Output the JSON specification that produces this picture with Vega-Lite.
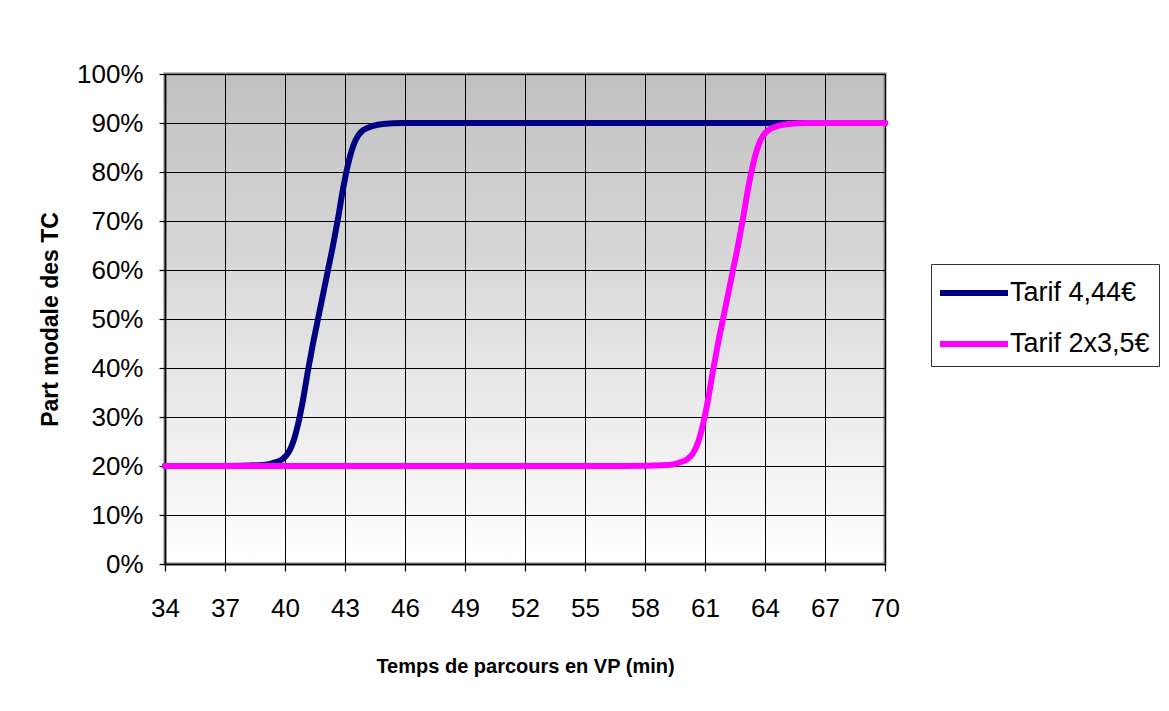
{
  "$schema": "https://vega.github.io/schema/vega-lite/v6.json",
  "width": 720,
  "height": 490,
  "autosize": {"type": "none"},
  "padding": {"left": 165, "top": 74, "right": 284, "bottom": 147},
  "background": "white",
  "config": {
    "font": "Liberation Sans",
    "view": {
      "stroke": "#808080",
      "strokeWidth": 3,
      "fill": {
        "gradient": "linear",
        "x1": 0, "y1": 0, "x2": 0, "y2": 1,
        "stops": [
          {"offset": 0, "color": "#c0c0c0"},
          {"offset": 1, "color": "#ffffff"}
        ]
      }
    }
  },
  "data": {
    "values": [
      {"serie": "Tarif 4,44€", "t": 34, "p": 0.20},
      {"serie": "Tarif 4,44€", "t": 37, "p": 0.20},
      {"serie": "Tarif 4,44€", "t": 38.9, "p": 0.202},
      {"serie": "Tarif 4,44€", "t": 39.4, "p": 0.206},
      {"serie": "Tarif 4,44€", "t": 39.9, "p": 0.215},
      {"serie": "Tarif 4,44€", "t": 40.15, "p": 0.226},
      {"serie": "Tarif 4,44€", "t": 40.4, "p": 0.248},
      {"serie": "Tarif 4,44€", "t": 40.65, "p": 0.285},
      {"serie": "Tarif 4,44€", "t": 40.9, "p": 0.335},
      {"serie": "Tarif 4,44€", "t": 41.15, "p": 0.395},
      {"serie": "Tarif 4,44€", "t": 41.4, "p": 0.45},
      {"serie": "Tarif 4,44€", "t": 41.65, "p": 0.50},
      {"serie": "Tarif 4,44€", "t": 41.9, "p": 0.55},
      {"serie": "Tarif 4,44€", "t": 42.15, "p": 0.60},
      {"serie": "Tarif 4,44€", "t": 42.4, "p": 0.65},
      {"serie": "Tarif 4,44€", "t": 42.65, "p": 0.705},
      {"serie": "Tarif 4,44€", "t": 42.9, "p": 0.765},
      {"serie": "Tarif 4,44€", "t": 43.15, "p": 0.815},
      {"serie": "Tarif 4,44€", "t": 43.4, "p": 0.852},
      {"serie": "Tarif 4,44€", "t": 43.65, "p": 0.874},
      {"serie": "Tarif 4,44€", "t": 43.9, "p": 0.885},
      {"serie": "Tarif 4,44€", "t": 44.4, "p": 0.894},
      {"serie": "Tarif 4,44€", "t": 44.9, "p": 0.898},
      {"serie": "Tarif 4,44€", "t": 45.9, "p": 0.90},
      {"serie": "Tarif 4,44€", "t": 55, "p": 0.90},
      {"serie": "Tarif 4,44€", "t": 70, "p": 0.90},
      {"serie": "Tarif 2x3,5€", "t": 34, "p": 0.20},
      {"serie": "Tarif 2x3,5€", "t": 50, "p": 0.20},
      {"serie": "Tarif 2x3,5€", "t": 57, "p": 0.20},
      {"serie": "Tarif 2x3,5€", "t": 59.15, "p": 0.202},
      {"serie": "Tarif 2x3,5€", "t": 59.65, "p": 0.206},
      {"serie": "Tarif 2x3,5€", "t": 60.15, "p": 0.215},
      {"serie": "Tarif 2x3,5€", "t": 60.4, "p": 0.226},
      {"serie": "Tarif 2x3,5€", "t": 60.65, "p": 0.248},
      {"serie": "Tarif 2x3,5€", "t": 60.9, "p": 0.285},
      {"serie": "Tarif 2x3,5€", "t": 61.15, "p": 0.335},
      {"serie": "Tarif 2x3,5€", "t": 61.4, "p": 0.395},
      {"serie": "Tarif 2x3,5€", "t": 61.65, "p": 0.45},
      {"serie": "Tarif 2x3,5€", "t": 61.9, "p": 0.50},
      {"serie": "Tarif 2x3,5€", "t": 62.15, "p": 0.55},
      {"serie": "Tarif 2x3,5€", "t": 62.4, "p": 0.60},
      {"serie": "Tarif 2x3,5€", "t": 62.65, "p": 0.65},
      {"serie": "Tarif 2x3,5€", "t": 62.9, "p": 0.705},
      {"serie": "Tarif 2x3,5€", "t": 63.15, "p": 0.765},
      {"serie": "Tarif 2x3,5€", "t": 63.4, "p": 0.815},
      {"serie": "Tarif 2x3,5€", "t": 63.65, "p": 0.852},
      {"serie": "Tarif 2x3,5€", "t": 63.9, "p": 0.874},
      {"serie": "Tarif 2x3,5€", "t": 64.15, "p": 0.885},
      {"serie": "Tarif 2x3,5€", "t": 64.65, "p": 0.894},
      {"serie": "Tarif 2x3,5€", "t": 65.15, "p": 0.898},
      {"serie": "Tarif 2x3,5€", "t": 66.15, "p": 0.90},
      {"serie": "Tarif 2x3,5€", "t": 70, "p": 0.90}
    ]
  },
  "encoding": {
    "x": {
      "field": "t", "type": "quantitative",
      "scale": {"domain": [34, 70], "nice": false, "zero": false},
      "axis": {
        "title": "Temps de parcours en VP (min)",
        "values": [34, 37, 40, 43, 46, 49, 52, 55, 58, 61, 64, 67, 70],
        "grid": true, "gridColor": "#000000", "gridWidth": 1, "gridOpacity": 1,
        "domainColor": "#000000", "domainWidth": 1.5,
        "tickColor": "#000000", "tickSize": 7, "tickWidth": 1.2,
        "labelFontSize": 26, "labelColor": "#000000", "labelPadding": 24,
        "labelFlush": false, "labelOverlap": false,
        "titleFontSize": 20, "titleFontWeight": "bold", "titleColor": "#000000",
        "titleBaseline": "alphabetic", "titleY": 108
      }
    },
    "y": {
      "field": "p", "type": "quantitative",
      "scale": {"domain": [0, 1], "nice": false},
      "axis": {
        "title": "Part modale des TC",
        "values": [0, 0.1, 0.2, 0.3, 0.4, 0.5, 0.6, 0.7, 0.8, 0.9, 1],
        "format": ".0%",
        "grid": true, "gridColor": "#000000", "gridWidth": 1, "gridOpacity": 1,
        "domainColor": "#000000", "domainWidth": 1.5,
        "tickColor": "#000000", "tickSize": 6, "tickWidth": 1.2,
        "labelFontSize": 26, "labelColor": "#000000", "labelPadding": 16,
        "labelFlush": false, "labelOverlap": false,
        "titleFontSize": 23, "titleFontWeight": "bold", "titleColor": "#000000",
        "titleAngle": -90, "titleBaseline": "middle", "titleX": -115, "titleY": 245
      }
    },
    "color": {
      "field": "serie", "type": "nominal",
      "scale": {"domain": ["Tarif 4,44€", "Tarif 2x3,5€"], "range": ["#000080", "#ff00ff"]},
      "legend": {
        "title": null,
        "orient": "none",
        "legendX": 766,
        "legendY": 190,
        "symbolType": "M-2,0H2",
        "symbolSize": 1156,
        "symbolStrokeWidth": 6,
        "symbolOffset": 14,
        "labelFontSize": 27,
        "labelColor": "#000000",
        "labelOffset": 16,
        "labelLimit": 300,
        "padding": 9,
        "rowPadding": 18,
        "strokeColor": "#333333",
        "fillColor": "#ffffff"
      }
    }
  },
  "layer": [
    {
      "transform": [{"filter": "datum.serie === 'Tarif 4,44€'"}],
      "mark": {"type": "line", "strokeWidth": 6, "interpolate": "monotone", "strokeCap": "round"}
    },
    {
      "transform": [{"filter": "datum.serie === 'Tarif 2x3,5€'"}],
      "mark": {"type": "line", "strokeWidth": 6, "interpolate": "monotone", "strokeCap": "round"}
    }
  ]
}
